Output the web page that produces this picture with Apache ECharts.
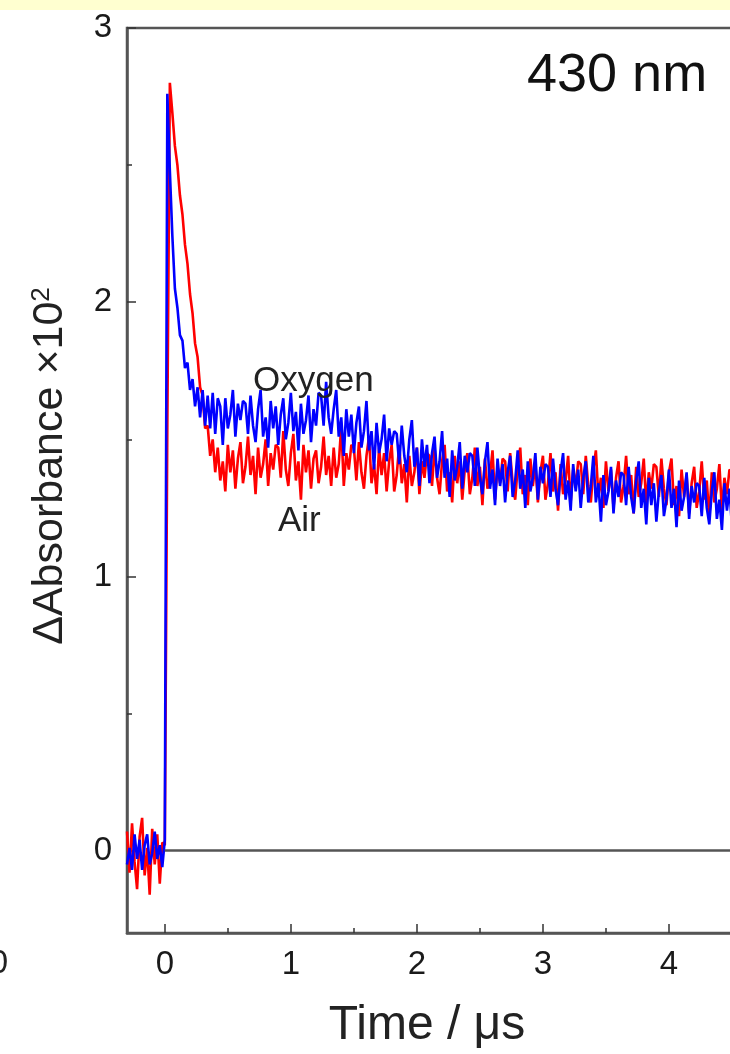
<!DOCTYPE html>
<html>
<head>
<meta charset="utf-8">
<script src="https://cdn.jsdelivr.net/npm/echarts@6/dist/echarts.min.js"></script>
<style>
  html, body { margin: 0; padding: 0; background: #fff; }
  #chart { width: 730px; height: 1054px; }
</style>
</head>
<body>
<div id="chart"></div>
<script>
// Sampling grid of the traces (time in microseconds)
const t0 = -0.3;
const dt = 0.02;

// Air trace (red), one value per sample, ΔAbsorbance ×10^2
const air = [
  0.07, -0.08, 0.10, -0.04, -0.14, 0.05, 0.12, -0.09, 0.01, -0.16, 0.08, -0.05, 0.06, -0.12, 0.03,
  0.02, 1.55, 2.80,
  2.69, 2.57, 2.50, 2.39, 2.32, 2.21, 2.14, 2.03, 1.96, 1.85, 1.80, 1.69, 1.66, 1.54, 1.55, 1.44, 1.50, 1.38, 1.47,
  1.35, 1.42, 1.31, 1.48, 1.38, 1.46, 1.32, 1.43, 1.49, 1.34,
  1.40, 1.51, 1.37, 1.44, 1.30, 1.47, 1.36, 1.41, 1.50, 1.33,
  1.45, 1.39, 1.48, 1.47, 1.36, 1.53, 1.39, 1.33, 1.45, 1.52,
  1.35, 1.42, 1.28, 1.48, 1.38, 1.46, 1.32, 1.43, 1.46, 1.34,
  1.40, 1.51, 1.37, 1.44, 1.33, 1.47, 1.36, 1.41, 1.55, 1.33,
  1.45, 1.39, 1.48, 1.47,
  1.35, 1.49, 1.38, 1.32, 1.44, 1.51, 1.34, 1.41, 1.30, 1.47, 1.37, 1.45, 1.31, 1.42, 1.48,
  1.31, 1.37, 1.48, 1.34, 1.41, 1.27, 1.44, 1.33, 1.38, 1.47, 1.30, 1.42, 1.36, 1.45, 1.44, 1.33, 1.47, 1.36, 1.30, 1.42,
  1.48, 1.31, 1.38, 1.27, 1.44, 1.34, 1.42, 1.28, 1.39, 1.45, 1.30, 1.36, 1.47, 1.33, 1.40, 1.26, 1.43, 1.32, 1.37, 1.46,
  1.28, 1.40, 1.34, 1.43, 1.42, 1.31, 1.45, 1.34, 1.28, 1.40, 1.47, 1.30, 1.37, 1.26, 1.43, 1.33, 1.41, 1.27, 1.38, 1.44,
  1.28, 1.34, 1.45, 1.31, 1.38, 1.24, 1.41, 1.30, 1.35, 1.44, 1.27, 1.39, 1.33, 1.42, 1.41, 1.30, 1.44, 1.33, 1.27, 1.39, 1.46, 1.29, 1.36, 1.25, 1.42,
  1.31, 1.39, 1.25, 1.36, 1.42, 1.27, 1.33, 1.44, 1.30, 1.37, 1.23, 1.40, 1.29, 1.34, 1.43, 1.26, 1.38, 1.32, 1.41, 1.40, 1.29, 1.43, 1.32, 1.26, 1.38,
  1.43, 1.26, 1.33, 1.22, 1.39, 1.29, 1.37, 1.23, 1.34, 1.40, 1.25, 1.31, 1.42, 1.28, 1.35, 1.21, 1.38, 1.27, 1.32, 1.41, 1.24, 1.36, 1.30, 1.39, 1.38
];

// Oxygen trace (blue)
const oxygen = [
  -0.05, 0.01, -0.07, 0.06, -0.03, 0.04, -0.07, 0.02, 0.06, -0.05, -0.01, 0.07, -0.03, 0.02, -0.06,
  0.04, 2.76, 2.48,
  2.24, 2.05, 1.98, 1.88, 1.86, 1.76, 1.78, 1.68, 1.72, 1.62, 1.69, 1.58, 1.68, 1.55, 1.66, 1.54, 1.67, 1.52, 1.65,
  1.62, 1.48, 1.65, 1.54, 1.59, 1.68, 1.51, 1.63, 1.57,
  1.64, 1.63, 1.52, 1.66, 1.55, 1.49, 1.61, 1.68, 1.51, 1.58, 1.47, 1.64, 1.54, 1.62, 1.48, 1.59, 1.65, 1.50, 1.56, 1.67,
  1.53, 1.60, 1.46, 1.63, 1.52, 1.57, 1.66, 1.49, 1.61, 1.55, 1.67, 1.66, 1.55, 1.71, 1.58, 1.52, 1.61, 1.68, 1.51, 1.58,
  1.44, 1.61, 1.51, 1.59, 1.45, 1.56, 1.62, 1.47, 1.53, 1.64,
  1.46, 1.53, 1.39, 1.56, 1.45, 1.50, 1.59, 1.42, 1.54, 1.48,
  1.53, 1.52, 1.41, 1.55, 1.44, 1.38, 1.50, 1.57, 1.40, 1.47,
  1.33, 1.50, 1.40, 1.48, 1.34, 1.45, 1.51, 1.36, 1.42, 1.53,
  1.36, 1.43, 1.29, 1.46, 1.35, 1.40, 1.49, 1.32, 1.44, 1.38,
  1.45, 1.44, 1.33, 1.47, 1.36, 1.30, 1.42, 1.49, 1.32, 1.39,
  1.26, 1.43, 1.33, 1.41, 1.27, 1.38, 1.44, 1.29, 1.35, 1.46, 1.32, 1.39, 1.25, 1.42, 1.31, 1.36, 1.45, 1.28, 1.40, 1.34,
  1.41, 1.40, 1.29, 1.43, 1.32, 1.26, 1.38, 1.45, 1.28, 1.35, 1.24, 1.41, 1.31, 1.39, 1.25, 1.36, 1.42, 1.27, 1.33, 1.44,
  1.27, 1.34, 1.20, 1.37, 1.26, 1.31, 1.40, 1.23, 1.35, 1.29, 1.38, 1.37, 1.26, 1.40, 1.29, 1.23, 1.35, 1.42, 1.25, 1.32,
  1.19, 1.36, 1.26, 1.34, 1.20, 1.31, 1.37, 1.22, 1.28, 1.39, 1.25, 1.32, 1.18, 1.35, 1.24, 1.29, 1.38, 1.21, 1.33, 1.27,
  1.34, 1.33, 1.22, 1.36, 1.25, 1.19, 1.31, 1.38, 1.21, 1.28, 1.17, 1.34, 1.24, 1.32, 1.18
];

// Axis ticks
const xMajorTicks = [0, 1, 2, 3, 4, 5];
const xMinorTicks = [0.5, 1.5, 2.5, 3.5, 4.5];
const yMajorTicks = [0, 1, 2, 3];
const yMinorTicks = [0.5, 1.5, 2.5];

const FONT = "'Liberation Sans', Arial, Helvetica, sans-serif";
const AXIS_COLOR = '#555';

function toPairs(values) {
  return values.map((v, i) => [+(t0 + i * dt).toFixed(2), v]);
}

const chart = echarts.init(document.getElementById('chart'), null, { renderer: 'canvas' });

const xBase = {
  type: 'value', min: -0.3, max: 5, gridIndex: 0, position: 'bottom',
  splitLine: { show: false }
};
const yBase = {
  type: 'value', min: -0.3, max: 3, gridIndex: 0, position: 'left',
  splitLine: { show: false }
};

chart.setOption({
  animation: false,
  backgroundColor: '#ffffff',
  textStyle: { fontFamily: FONT },
  grid: {
    left: 127, top: 28, width: 668, height: 905,
    show: true, borderColor: AXIS_COLOR, borderWidth: 2.5, backgroundColor: '#fff',
    containLabel: false,
    outerBoundsMode: 'none'
  },
  xAxis: [
    Object.assign({}, xBase, {
      axisLine: { show: true, onZero: false, lineStyle: { color: AXIS_COLOR, width: 2.5 } },
      axisTick: { show: true, inside: true, length: 9, customValues: xMajorTicks, lineStyle: { color: '#333', width: 1.5 } },
      axisLabel: { show: true, customValues: xMajorTicks, fontSize: 33, color: '#1a1a1a', margin: 15, fontFamily: FONT }
    }),
    Object.assign({}, xBase, {
      axisLine: { show: false, onZero: false },
      axisTick: { show: true, inside: true, length: 5, customValues: xMinorTicks, lineStyle: { color: '#333', width: 1.5 } },
      axisLabel: { show: false }
    })
  ],
  yAxis: [
    Object.assign({}, yBase, {
      axisLine: { show: true, onZero: false, lineStyle: { color: AXIS_COLOR, width: 2.5 } },
      axisTick: { show: true, inside: true, length: 9, customValues: yMajorTicks, lineStyle: { color: '#333', width: 1.5 } },
      axisLabel: { show: true, customValues: yMajorTicks, fontSize: 33, color: '#1a1a1a', margin: 15, fontFamily: FONT }
    }),
    Object.assign({}, yBase, {
      axisLine: { show: false, onZero: false },
      axisTick: { show: true, inside: true, length: 5, customValues: yMinorTicks, lineStyle: { color: '#333', width: 1.5 } },
      axisLabel: { show: false }
    })
  ],
  series: [
    {
      name: 'Air', type: 'line', xAxisIndex: 0, yAxisIndex: 0,
      data: toPairs(air), showSymbol: false, symbol: 'none',
      lineStyle: { color: '#ff0000', width: 2.6 }, z: 2,
      markLine: {
        silent: true, symbol: 'none', label: { show: false },
        lineStyle: { color: AXIS_COLOR, width: 2.5, type: 'solid' },
        data: [[{ coord: [0, 0] }, { coord: [5, 0] }]]
      }
    },
    {
      name: 'Oxygen', type: 'line', xAxisIndex: 0, yAxisIndex: 0,
      data: toPairs(oxygen), showSymbol: false, symbol: 'none',
      lineStyle: { color: '#0000ff', width: 2.6 }, z: 3
    }
  ],
  graphic: [
    { type: 'rect', shape: { x: 0, y: 0, width: 730, height: 10 }, style: { fill: '#ffffd0' }, z: 10 },
    { type: 'text', x: 527, y: 76, style: { text: '430 nm', font: "54px " + FONT, fill: '#111', textAlign: 'left', textVerticalAlign: 'middle' }, z: 10 },
    { type: 'text', x: 253, y: 381, style: { text: 'Oxygen', font: "35px " + FONT, fill: '#222', textAlign: 'left', textVerticalAlign: 'middle' }, z: 10 },
    { type: 'text', x: 278, y: 521, style: { text: 'Air', font: "35px " + FONT, fill: '#222', textAlign: 'left', textVerticalAlign: 'middle' }, z: 10 },
    { type: 'text', x: 427, y: 1026, style: { text: 'Time / μs', font: "48px " + FONT, fill: '#222', textAlign: 'center', textVerticalAlign: 'middle' }, z: 10 },
    { type: 'text', x: 8, y: 964, style: { text: '0', font: "33px " + FONT, fill: '#222', textAlign: 'right', textVerticalAlign: 'middle' }, z: 10 },
    {
      type: 'text', x: 50, y: 466, rotation: Math.PI / 2, z: 10,
      style: {
        text: '{a|ΔAbsorbance ×10}{s|2}',
        textAlign: 'center', textVerticalAlign: 'middle', fill: '#222',
        rich: {
          a: { fontSize: 43, fontFamily: FONT, fill: '#222' },
          s: { fontSize: 26, fontFamily: FONT, fill: '#222', verticalAlign: 'top' }
        }
      }
    }
  ]
});
</script>
</body>
</html>
